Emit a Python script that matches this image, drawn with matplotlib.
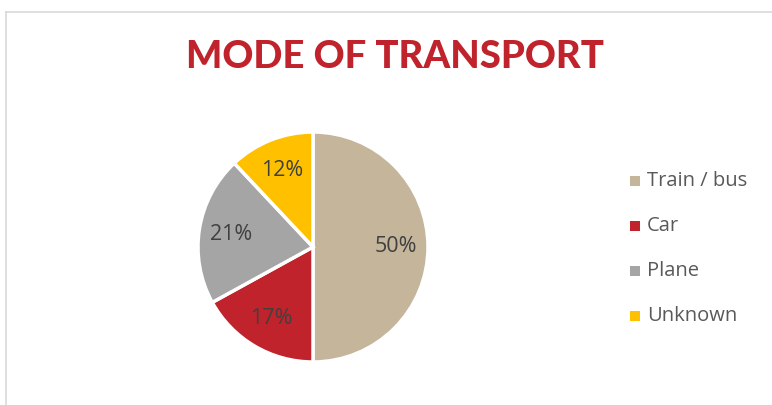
import matplotlib
matplotlib.use('Agg')
import matplotlib.pyplot as plt
from matplotlib.lines import Line2D
from matplotlib.patches import Rectangle

# data
modes = ['Train / bus', 'Car', 'Plane', 'Unknown']
shares = [50, 17, 21, 12]
colors = ['#C4B59B', '#C0232C', '#A5A5A5', '#FFC000']

W, H = 772, 405
fig = plt.figure(figsize=(W / 100, H / 100), dpi=100)
fig.patch.set_facecolor('white')

# chart-area border (top and left edges visible)
fig.add_artist(Line2D([6 / W, 1], [1 - 12 / H, 1 - 12 / H], color='#D9D9D9', lw=1.2))
fig.add_artist(Line2D([6 / W, 6 / W], [0, 1 - 12 / H], color='#D9D9D9', lw=1.2))

# pie axes: center (313, 247) px, radius 115 px
cx, cy, r = 313, 247, 115
pad = 1.05
ax = fig.add_axes([(cx - r * pad) / W, (H - cy - r * pad) / H, 2 * r * pad / W, 2 * r * pad / H])
wedges, texts, autotexts = ax.pie(
    shares, colors=colors, startangle=90, counterclock=False,
    autopct='%.0f%%', pctdistance=0.72,
    wedgeprops=dict(edgecolor='white', linewidth=2.5),
    textprops=dict(color='#404040', fontsize=15.5, family='Open Sans'))
ax.set_xlim(-pad, pad)
ax.set_ylim(-pad, pad)
ax.set_aspect('equal')
ax.axis('off')

fig.text(395 / W, 1 - 57 / H, 'MODE OF TRANSPORT', ha='center', va='center',
         color='#C0232C', fontsize=27.5, fontweight='black', family='Lato')

# legend drawn by hand: square + label per row
row_y = 181
row_gap = 45
sq = 10
for i, (name, c) in enumerate(zip(modes, colors)):
    y = H - (row_y + i * row_gap)
    fig.add_artist(Rectangle((630 / W, (y - sq / 2) / H), sq / W, sq / H,
                             facecolor=c, edgecolor='none', transform=fig.transFigure))
    fig.text(647 / W, y / H, name, ha='left', va='center', color='#595959',
             fontsize=14.5, family='Open Sans')

fig.savefig('out.png', dpi=100)
